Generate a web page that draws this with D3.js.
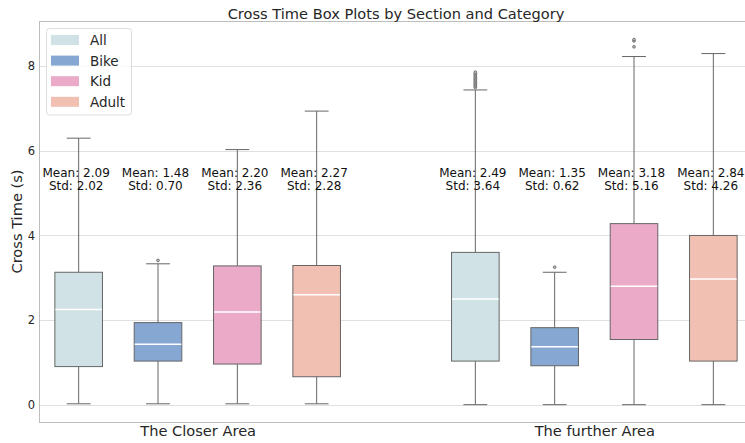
<!DOCTYPE html>
<html>
<head>
<meta charset="utf-8">
<script src="https://cdn.jsdelivr.net/npm/d3@7"></script>
<style>
  body { margin: 0; background: #fff; }
  svg { display: block; font-family: "DejaVu Sans", sans-serif; }
</style>
</head>
<body>
<svg id="chart" width="745" height="443"></svg>
<script>
// ---- data ----
const sections = ["The Closer Area", "The further Area"];
const categories = ["All", "Bike", "Kid", "Adult"];
const colors = ["#d0e2e6", "#86a7d2", "#eaaac8", "#f2c0b3"];
// [whiskerLow, q1, median, q3, whiskerHigh] per section, per category
const closerStats = [
  [0.02, 0.90, 2.25, 3.13, 6.30],
  [0.02, 1.03, 1.43, 1.94, 3.33],
  [0.02, 0.96, 2.19, 3.28, 6.03],
  [0.02, 0.66, 2.60, 3.29, 6.94]
];
const furtherStats = [
  [0.00, 1.03, 2.50, 3.60, 7.44],
  [0.00, 0.92, 1.37, 1.82, 3.13],
  [0.00, 1.54, 2.80, 4.28, 8.23],
  [0.00, 1.03, 2.97, 4.00, 8.30]
];
const closerOutliers = [[], [3.41], [], []];
const furtherOutliers = [
  [7.50, 7.53, 7.56, 7.59, 7.62, 7.65, 7.68, 7.71, 7.74, 7.77, 7.80, 7.83, 7.86],
  [3.25],
  [8.46, 8.60, 8.63],
  []
];
const closerMeans = [2.09, 1.48, 2.20, 2.27];
const closerStds = [2.02, 0.70, 2.36, 2.28];
const furtherMeans = [2.49, 1.35, 3.18, 2.84];
const furtherStds = [3.64, 0.62, 5.16, 4.26];
const yTicks = [0, 2, 4, 6, 8];
const annotY = 5.5;

const statsBySection = [closerStats, furtherStats];
const outliersBySection = [closerOutliers, furtherOutliers];
const meansBySection = [closerMeans, furtherMeans];
const stdsBySection = [closerStds, furtherStds];

// ---- layout ----
const svg = d3.select("#chart");
const mLeft = 39, mRight = 753, mTop = 21, mBottom = 422;

const x = d3.scaleLinear().domain([-0.4, 1.4]).range([mLeft, mRight]);
const y = d3.scaleLinear().domain([-0.41, 9.07]).range([mBottom, mTop]);
const hueOffset = d3.scaleBand().domain(categories).range([-0.4, 0.4]);
const boxW = 0.12;

// grid
svg.append("g").selectAll("line").data(yTicks).join("line")
  .attr("x1", mLeft).attr("x2", mRight)
  .attr("y1", d => Math.round(y(d)) + 0.5).attr("y2", d => Math.round(y(d)) + 0.5)
  .attr("stroke", "#e0e0e0").attr("stroke-width", 1);

// y axis
const yAxis = svg.append("g").attr("transform", `translate(${mLeft},0)`)
  .call(d3.axisLeft(y).tickValues(yTicks).tickSize(0).tickPadding(4).tickFormat(d3.format("d")));
yAxis.select(".domain").remove();
yAxis.selectAll("text").attr("font-size", 11.5).attr("fill", "#262626").attr("font-family", "DejaVu Sans");

// x axis
const xAxis = svg.append("g").attr("transform", `translate(0,${mBottom})`)
  .call(d3.axisBottom(x).tickValues([0, 1]).tickSize(0).tickPadding(4).tickFormat(i => sections[i]));
xAxis.select(".domain").remove();
xAxis.selectAll("text").attr("font-size", 14.6).attr("fill", "#262626").attr("font-family", "DejaVu Sans");

// spines
svg.append("rect").attr("x", mLeft + 0.5).attr("y", mTop + 0.5)
  .attr("width", mRight - mLeft).attr("height", mBottom - mTop)
  .attr("fill", "none").attr("stroke", "#bdbdbd").attr("stroke-width", 1);

const lineCol = "#666666";
// boxes
sections.forEach((sec, si) => {
  categories.forEach((cat, ci) => {
    const s = statsBySection[si][ci];
    const cx = si + hueOffset(cat) + hueOffset.bandwidth() / 2;
    const g = svg.append("g");
    const px = x(cx);
    const half = (x(boxW) - x(0)) / 2;
    // whiskers
    g.append("line").attr("x1", px).attr("x2", px).attr("y1", y(s[3])).attr("y2", y(s[4]))
      .attr("stroke", lineCol).attr("stroke-width", 1);
    g.append("line").attr("x1", px).attr("x2", px).attr("y1", y(s[1])).attr("y2", y(s[0]))
      .attr("stroke", lineCol).attr("stroke-width", 1);
    // caps
    [s[0], s[4]].forEach(v => {
      g.append("line").attr("x1", px - half / 2).attr("x2", px + half / 2)
        .attr("y1", y(v)).attr("y2", y(v)).attr("stroke", lineCol).attr("stroke-width", 1);
    });
    // box
    g.append("rect").attr("x", px - half).attr("y", y(s[3]))
      .attr("width", 2 * half).attr("height", y(s[1]) - y(s[3]))
      .attr("fill", colors[ci]).attr("stroke", lineCol).attr("stroke-width", 1);
    // median
    g.append("line").attr("x1", px - half + 0.5).attr("x2", px + half - 0.5)
      .attr("y1", y(s[2])).attr("y2", y(s[2])).attr("stroke", "#ffffff").attr("stroke-width", 1.5);
    // outliers
    g.selectAll("circle").data(outliersBySection[si][ci]).join("circle")
      .attr("cx", px).attr("cy", d => y(d)).attr("r", 1.4)
      .attr("fill", "#bbbbbb").attr("stroke", lineCol).attr("stroke-width", 0.8);
    // annotation
    const t = g.append("text").attr("text-anchor", "middle").attr("font-size", 12)
      .attr("fill", "#111");
    t.append("tspan").attr("x", px - 2.5).attr("y", y(annotY) + 4.5)
      .text(`Mean: ${meansBySection[si][ci].toFixed(2)}`);
    t.append("tspan").attr("x", px - 2.5).attr("y", y(annotY) + 17.5)
      .text(`Std: ${stdsBySection[si][ci].toFixed(2)}`);
  });
});

// title
svg.append("text").attr("x", (mLeft + mRight) / 2).attr("y", 19)
  .attr("text-anchor", "middle").attr("font-size", 14.6).attr("fill", "#262626")
  .text("Cross Time Box Plots by Section and Category");

// y label
svg.append("text").attr("transform", `translate(22,${(mTop + mBottom) / 2}) rotate(-90)`)
  .attr("text-anchor", "middle").attr("font-size", 14.6).attr("fill", "#262626")
  .text("Cross Time (s)");

// legend
const lg = svg.append("g");
lg.append("rect").attr("x", 46.5).attr("y", 28.5).attr("width", 85).attr("height", 86.5)
  .attr("rx", 3).attr("fill", "#ffffff").attr("fill-opacity", 0.8)
  .attr("stroke", "#dddddd").attr("stroke-width", 1);
categories.forEach((cat, i) => {
  const cy = 40 + i * 20.6;
  lg.append("rect").attr("x", 51).attr("y", cy - 5).attr("width", 28).attr("height", 10)
    .attr("fill", colors[i]);
  lg.append("text").attr("x", 90).attr("y", cy + 5).attr("font-size", 13.5)
    .attr("fill", "#262626").text(cat);
});
</script>
</body>
</html>
